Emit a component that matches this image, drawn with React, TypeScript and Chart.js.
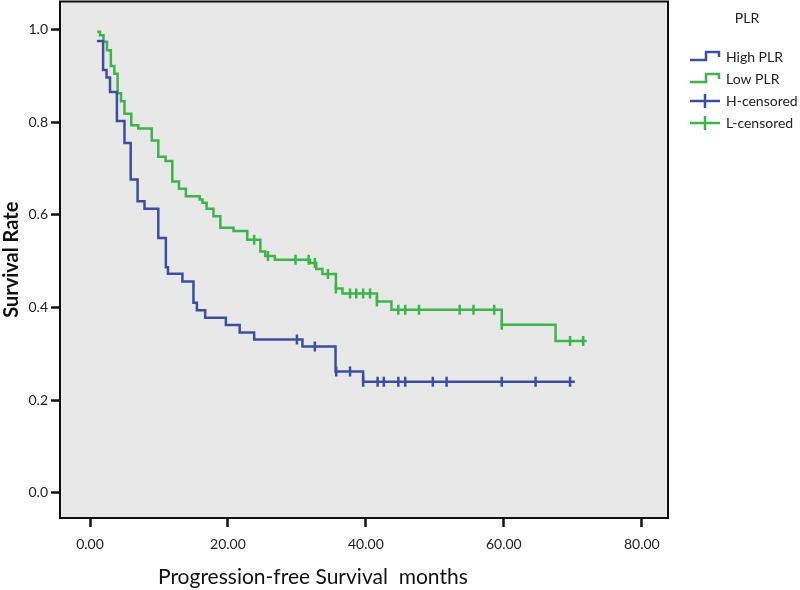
import { useEffect, useRef } from "react";
import { Chart, registerables } from "chart.js";

Chart.register(...registerables);

// ---- data ----
const highTimes = [1.0, 1.9, 2.4, 2.9, 3.9, 5.0, 5.9, 6.9, 7.9, 9.9, 11.0, 11.3, 13.4, 15.0, 15.5, 16.7, 19.7, 21.7, 23.8, 30.8, 35.6, 39.6, 70.3];
const highSurv = [0.975, 0.912, 0.896, 0.865, 0.802, 0.755, 0.676, 0.629, 0.613, 0.55, 0.487, 0.473, 0.456, 0.41, 0.394, 0.378, 0.362, 0.346, 0.331, 0.316, 0.262, 0.24, 0.24];
const highCensorTimes = [30.0, 32.6, 35.7, 37.7, 39.6, 41.7, 42.6, 44.7, 45.7, 49.7, 51.7, 59.7, 64.6, 69.6];

const lowTimes = [1.06, 1.45, 1.95, 2.46, 3.02, 3.53, 4.0, 4.5, 5.0, 5.98, 7.0, 8.95, 9.9, 10.96, 11.93, 12.9, 13.9, 15.9, 16.3, 16.9, 17.9, 18.9, 20.8, 22.8, 24.7, 25.4, 26.8, 31.9, 32.8, 33.7, 35.65, 36.6, 41.6, 43.7, 59.7, 67.5, 72.0];
const lowSurv = [0.995, 0.987, 0.973, 0.955, 0.921, 0.904, 0.862, 0.845, 0.818, 0.793, 0.786, 0.76, 0.725, 0.716, 0.672, 0.656, 0.64, 0.633, 0.626, 0.613, 0.597, 0.572, 0.565, 0.546, 0.521, 0.511, 0.503, 0.496, 0.483, 0.472, 0.441, 0.43, 0.413, 0.395, 0.363, 0.328, 0.328];
const lowCensorTimes = [23.8, 25.8, 29.8, 31.7, 32.6, 34.5, 35.65, 37.7, 38.6, 39.6, 40.6, 41.6, 44.7, 45.7, 47.7, 53.6, 55.6, 58.6, 59.7, 69.6, 71.5];

const xTicks = [0, 20, 40, 60, 80];
const yTicks = [0, 0.2, 0.4, 0.6, 0.8, 1.0];
const xTitle = "Progression-free Survival  months";
const yTitle = "Survival Rate";
const legendTitle = "PLR";
const seriesNames = ["High PLR", "Low PLR", "H-censored", "L-censored"];

const BLUE = "#3b4ea2";
const GREEN = "#3db54a";
const PLOT_BG = "#e7e8e7";
const FONT = "Lato, 'Open Sans', sans-serif";
const SHIFT = 6; // canvas is drawn 6px taller and pulled up by 6px

function levelAt(times: number[], surv: number[], t: number) {
  let v = surv[0];
  for (let i = 0; i < times.length; i++) if (times[i] <= t + 1e-9) v = surv[i];
  return v;
}

const customPlugin = {
  id: "kmDecor",
  beforeDraw(chart: any) {
    const { ctx, chartArea: a } = chart;
    ctx.save();
    ctx.fillStyle = PLOT_BG;
    ctx.fillRect(a.left, a.top, a.right - a.left, a.bottom - a.top);
    ctx.restore();
  },
  afterDraw(chart: any) {
    const { ctx, chartArea: a } = chart;
    ctx.save();
    // frame
    ctx.strokeStyle = "#111";
    ctx.lineWidth = 2;
    ctx.strokeRect(a.left, a.top, a.right - a.left, a.bottom - a.top);

    // x title
    ctx.fillStyle = "#111";
    ctx.font = `21px ${FONT}`;
    ctx.textAlign = "left";
    ctx.textBaseline = "middle";
    ctx.fillText(xTitle, 158, 577 + SHIFT);

    // legend
    ctx.font = `14px ${FONT}`;
    ctx.textAlign = "center";
    ctx.fillStyle = "#222";
    ctx.fillText(legendTitle, 747, 18 + SHIFT);
    const rows = [57, 79, 101, 123].map((r) => r + SHIFT);
    const colors = [BLUE, GREEN, BLUE, GREEN];
    const x0 = 690;
    const x1 = 720;
    rows.forEach((y, i) => {
      ctx.strokeStyle = colors[i];
      ctx.lineWidth = 2.5;
      ctx.beginPath();
      if (i < 2) {
        ctx.moveTo(x0, y + 3);
        ctx.lineTo(x0 + 16, y + 3);
        ctx.lineTo(x0 + 16, y - 5);
        ctx.lineTo(x1 - 1, y - 5);
        ctx.lineTo(x1 - 1, y);
      } else {
        ctx.moveTo(x0, y);
        ctx.lineTo(x1, y);
        ctx.moveTo(x0 + 15, y - 7);
        ctx.lineTo(x0 + 15, y + 7);
      }
      ctx.stroke();
      ctx.fillStyle = "#222";
      ctx.textAlign = "left";
      ctx.fillText(seriesNames[i], 726, y);
    });
    ctx.restore();
  },
};

export default function App() {
  const ref = useRef<HTMLCanvasElement | null>(null);

  useEffect(() => {
    document.body.style.margin = "0";
    const canvas = ref.current;
    if (!canvas) return;

    const highLine = highTimes.map((t, i) => ({ x: t, y: highSurv[i] }));
    const lowLine = lowTimes.map((t, i) => ({ x: t, y: lowSurv[i] }));
    const highCens = highCensorTimes.map((t) => ({ x: t, y: levelAt(highTimes, highSurv, t) }));
    const lowCens = lowCensorTimes.map((t) => ({ x: t, y: levelAt(lowTimes, lowSurv, t) }));

    const chart = new Chart(canvas, {
      type: "line",
      data: {
        datasets: [
          { label: seriesNames[0], data: highLine, borderColor: BLUE, borderWidth: 2.5, stepped: "before", pointRadius: 0, fill: false },
          { label: seriesNames[1], data: lowLine, borderColor: GREEN, borderWidth: 2.5, stepped: "before", pointRadius: 0, fill: false },
          { label: seriesNames[2], data: highCens, showLine: false, pointStyle: "line", rotation: 90, pointRadius: 5, borderColor: BLUE, pointBorderWidth: 2.5, pointBorderColor: BLUE },
          { label: seriesNames[3], data: lowCens, showLine: false, pointStyle: "line", rotation: 90, pointRadius: 5, borderColor: GREEN, pointBorderWidth: 2.5, pointBorderColor: GREEN },
        ],
      },
      options: {
        responsive: false,
        animation: false,
        events: [],
        layout: { padding: { top: 0, right: 132, left: 0, bottom: 0 } },
        plugins: { legend: { display: false }, tooltip: { enabled: false } },
        scales: {
          x: {
            type: "linear",
            min: -4.35,
            max: 83.8,
            afterBuildTicks: (s: any) => { s.ticks = xTicks.map((v) => ({ value: v })); },
            afterFit: (s: any) => { s.height = 72; s.paddingLeft = 0; s.paddingRight = 0; },
            ticks: { callback: (v: any) => Number(v).toFixed(2), color: "#222", font: { family: FONT, size: 14 }, padding: 9, maxRotation: 0 },
            grid: { drawOnChartArea: false, drawTicks: true, tickLength: 9, tickColor: "#111", tickWidth: 2.5 },
            border: { display: true, color: "#111", width: 2 },
          },
          y: {
            type: "linear",
            min: -0.054,
            max: 1.06,
            afterBuildTicks: (s: any) => { s.ticks = yTicks.map((v) => ({ value: v })); },
            afterFit: (s: any) => { s.width = 60; s.paddingTop = 0; s.paddingBottom = 0; },
            ticks: { callback: (v: any) => Number(v).toFixed(1), color: "#222", font: { family: FONT, size: 14 }, padding: 3 },
            grid: { drawOnChartArea: false, drawTicks: true, tickLength: 9, tickColor: "#111", tickWidth: 2.5 },
            border: { display: true, color: "#111", width: 2 },
            title: { display: true, text: yTitle, color: "#111", font: { family: FONT, size: 20, weight: "bold" }, padding: { top: 0, bottom: 0 } },
          },
        },
      },
      plugins: [customPlugin],
    });
    return () => chart.destroy();
  }, []);

  return <canvas ref={ref} width={800} height={590 + SHIFT} style={{ display: "block", marginTop: -SHIFT }} />;
}
